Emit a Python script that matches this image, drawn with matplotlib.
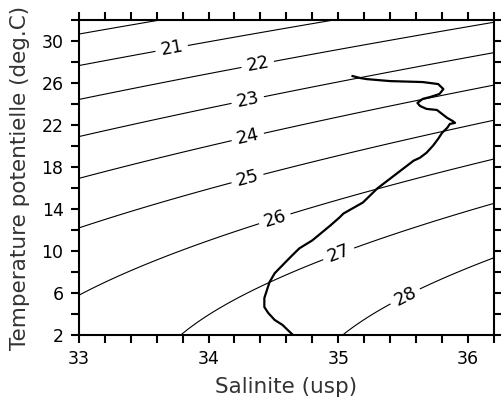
import numpy as np
import matplotlib
matplotlib.use("Agg")
import matplotlib.pyplot as plt

# profile (salinity, potential temperature)
salinity = [35.11, 35.17, 35.22, 35.40, 35.65, 35.77, 35.81, 35.78, 35.71, 35.65,
            35.61, 35.63, 35.68, 35.76, 35.80, 35.84, 35.88, 35.90, 35.86, 35.84,
            35.80, 35.77, 35.73, 35.68, 35.63, 35.58, 35.45, 35.30, 35.19, 35.04,
            35.01, 34.94, 34.80, 34.70, 34.63, 34.57, 34.51, 34.47, 34.45, 34.43,
            34.43, 34.46, 34.51, 34.57, 34.61, 34.65]
theta = [26.67, 26.48, 26.38, 26.19, 26.10, 25.91, 25.43, 24.96, 24.68, 24.49,
         24.11, 23.82, 23.54, 23.44, 23.06, 22.68, 22.40, 22.21, 22.11, 21.74,
         21.26, 20.69, 20.03, 19.36, 18.89, 18.60, 17.37, 15.95, 14.62, 13.57,
         13.20, 12.44, 11.01, 10.25, 9.40, 8.64, 7.88, 7.03, 6.27, 5.51,
         4.66, 4.09, 3.42, 2.95, 2.47, 2.00]

unlabeled_levels = [20]
labeled_levels = [21, 22, 23, 24, 25, 26, 27, 28]
label_pos = [(33.71, 29.7), (34.38, 27.7), (34.30, 24.5), (34.30, 21.0),
             (34.30, 16.9), (34.51, 13.1), (35.01, 9.5), (35.51, 5.8)]


def sigma0(S, T):
    # UNESCO 1983 equation of state at surface pressure
    rho_w = (999.842594 + 6.793952e-2 * T - 9.095290e-3 * T**2 + 1.001685e-4 * T**3
             - 1.120083e-6 * T**4 + 6.536332e-9 * T**5)
    rho = (rho_w
           + S * (0.824493 - 4.0899e-3 * T + 7.6438e-5 * T**2 - 8.2467e-7 * T**3 + 5.3875e-9 * T**4)
           + S**1.5 * (-5.72466e-3 + 1.0227e-4 * T - 1.6546e-6 * T**2)
           + 4.8314e-4 * S**2)
    return rho - 1000.0


SS, TT = np.meshgrid(np.linspace(33, 36.2, 200), np.linspace(2, 32, 200))
sig = sigma0(SS, TT)

fig = plt.figure(figsize=(5.02, 4.03), dpi=100)
ax = fig.add_axes([0.157, 0.169, 0.827, 0.781])

ax.contour(SS, TT, sig, levels=unlabeled_levels, colors="black", linewidths=0.8)
cs = ax.contour(SS, TT, sig, levels=labeled_levels, colors="black", linewidths=0.8)
ax.clabel(cs, fmt="%d", inline=True, fontsize=13, manual=label_pos)

ax.plot(salinity, theta, color="black", linewidth=1.6)

ax.set_xlim(33, 36.2)
ax.set_ylim(2, 32)
ax.set_xticks([33, 34, 35, 36])
ax.set_xticks(np.arange(33, 36.21, 0.2), minor=True)
ax.set_yticks(range(2, 31, 4))
ax.set_yticks(range(2, 33, 2), minor=True)
ax.tick_params(which="both", direction="out", length=6, width=1.5,
               top=True, right=True, labelsize=12.5, pad=5)
for sp in ax.spines.values():
    sp.set_linewidth(1.5)

ax.set_xlabel("Salinite (usp)", fontsize=15.5, color="#333333", labelpad=6)
ax.set_ylabel("Temperature potentielle (deg.C)", fontsize=15.5, color="#333333",
              labelpad=8)

fig.savefig("out.png", dpi=100)
